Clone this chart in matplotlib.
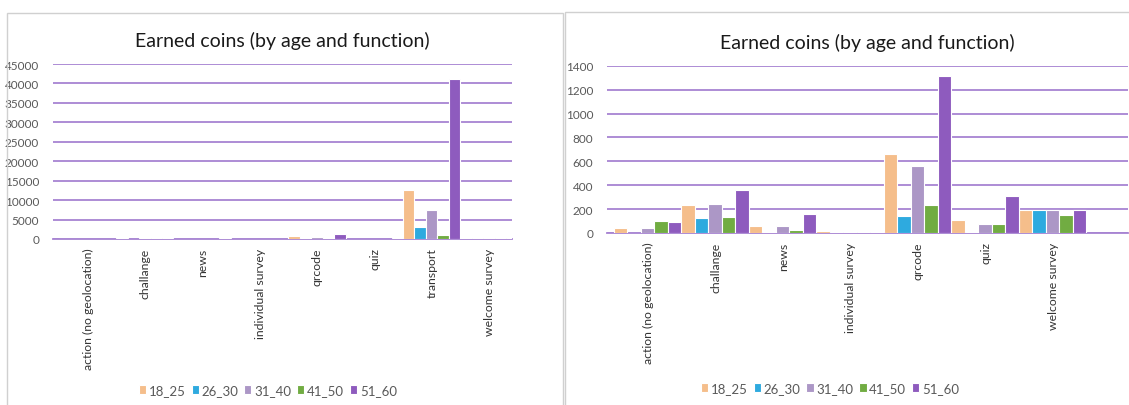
import matplotlib.pyplot as plt
import numpy as np
from matplotlib.patches import Rectangle

plt.rcParams["font.family"] = ["Lato", "DejaVu Sans"]

CATEGORIES = ["action (no geolocation)", "challange", "news", "individual survey",
              "qrcode", "quiz", "transport", "welcome survey"]
AGE_GROUPS = ["18_25", "26_30", "31_40", "41_50", "51_60"]

coins_18_25 = [38, 237, 62, 13, 664, 110, 12500, 196]
coins_26_30 = [3, 126, 9, 10, 146, 10, 3150, 196]
coins_31_40 = [38, 240, 62, 10, 558, 76, 7400, 196]
coins_41_50 = [98, 137, 22, 10, 232, 76, 950, 153]
coins_51_60 = [92, 357, 156, 10, 1314, 310, 41200, 196]

SERIES = [coins_18_25, coins_26_30, coins_31_40, coins_41_50, coins_51_60]
COLORS = ["#F5BE8B", "#2EAADF", "#AC97C6", "#71AC42", "#8E5BBE"]
GRID_C = "#A783D2"
TEXT_C = "#595959"


def draw_panel(ax, cats, series, ymax, ystep, xright, leg_x):
    n = len(cats)
    x = np.arange(n)
    bw = 0.2
    for k, (vals, lab) in enumerate(zip(series, AGE_GROUPS)):
        ax.bar(x - 0.4 + bw * (k + 0.5), vals, bw, color=COLORS[k], label=lab,
               edgecolor="white", linewidth=0.8, zorder=3)
    ax.set_xlim(-0.5, xright)
    ax.set_ylim(0, ymax)
    ax.set_yticks(np.arange(0, ymax + 1, ystep))
    ax.yaxis.grid(True, color=GRID_C, linewidth=1.3, zorder=0)
    ax.set_axisbelow(True)
    for s in ["top", "right", "left"]:
        ax.spines[s].set_visible(False)
    ax.spines["bottom"].set_color(GRID_C)
    ax.spines["bottom"].set_linewidth(1.3)
    ax.spines["bottom"].set_zorder(1)
    # labels sit a little right of the group centre, like the original
    ax.set_xticks(x + 0.11)
    ax.set_xticklabels(cats, rotation=90, fontsize=8.8, color="#333333")
    ax.tick_params(axis="x", length=0, pad=6)
    ax.tick_params(axis="y", length=0, labelsize=8.5, labelcolor=TEXT_C, pad=10)
    ax.set_title("Earned coins (by age and function)", fontsize=14,
                 color="#1a1a1a", pad=13)
    ax.legend(loc="upper center", bbox_to_anchor=leg_x, ncol=5,
              frameon=False, fontsize=9.5, handlelength=0.55, handleheight=0.7,
              handletextpad=0.2, columnspacing=0.45, labelcolor=TEXT_C)


fig = plt.figure(figsize=(11.29, 4.06), dpi=100)

# panel frames
fig.patches.append(Rectangle((7 / 1129, -0.1), 556 / 1129, 1.1 - 14 / 406,
                             transform=fig.transFigure, fill=False,
                             edgecolor="#D0D0D0", linewidth=1))
fig.patches.append(Rectangle((565 / 1129, -0.1), 600 / 1129, 1.1 - 13 / 406,
                             transform=fig.transFigure, fill=False,
                             edgecolor="#D0D0D0", linewidth=1))

ax1 = fig.add_axes([53 / 1129, 166 / 406, 459 / 1129, 175 / 406])
draw_panel(ax1, CATEGORIES, SERIES, 45000, 5000, 7.5, (0.468, -0.76))

# second chart without transport
keep = [i for i, c in enumerate(CATEGORIES) if c != "transport"]
cats2 = [CATEGORIES[i] for i in keep]
series2 = [[s[i] for i in keep] for s in SERIES]
ax2 = fig.add_axes([607 / 1129, 172 / 406, 521 / 1129, 167.3 / 406])
draw_panel(ax2, cats2, series2, 1400, 200, -0.5 + 521 / 67.5, (0.428, -0.82))

fig.savefig("out.png", dpi=100)
